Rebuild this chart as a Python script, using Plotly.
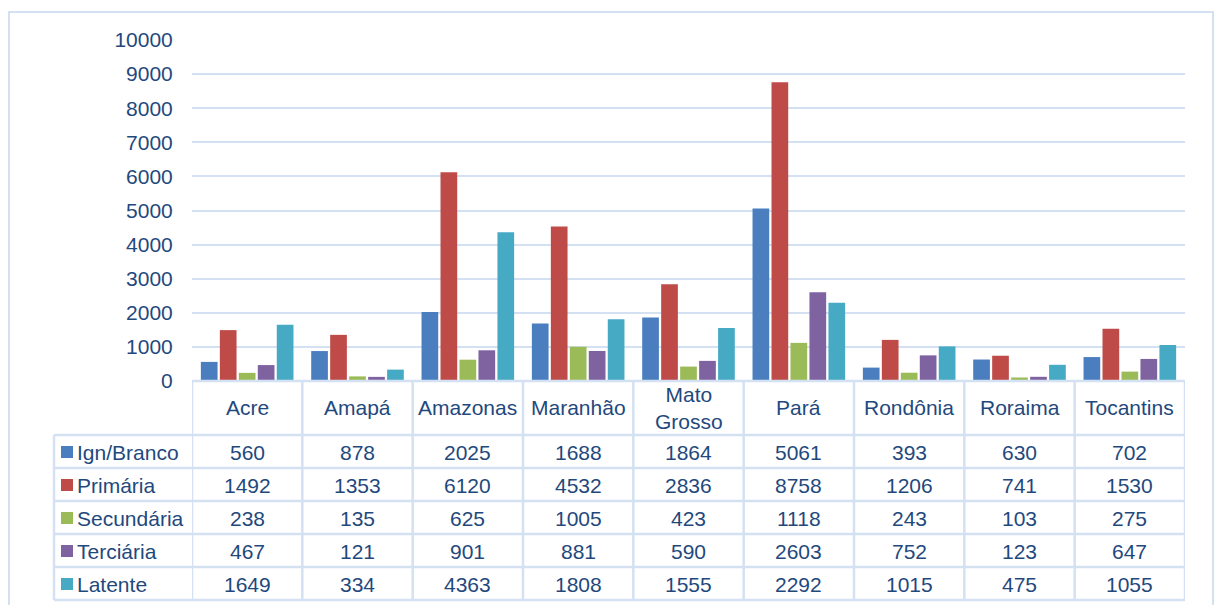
import plotly.graph_objects as go

categories = ["Acre", "Amapá", "Amazonas", "Maranhão", "Mato Grosso", "Pará", "Rondônia", "Roraima", "Tocantins"]
header_labels = ["Acre", "Amapá", "Amazonas", "Maranhão", "Mato<br>Grosso", "Pará", "Rondônia", "Roraima", "Tocantins"]
series_names = ["Ign/Branco", "Primária", "Secundária", "Terciária", "Latente"]
ign_branco = [560, 878, 2025, 1688, 1864, 5061, 393, 630, 702]
primaria = [1492, 1353, 6120, 4532, 2836, 8758, 1206, 741, 1530]
secundaria = [238, 135, 625, 1005, 423, 1118, 243, 103, 275]
terciaria = [467, 121, 901, 881, 590, 2603, 752, 123, 647]
latente = [1649, 334, 4363, 1808, 1555, 2292, 1015, 475, 1055]
y_ticks = [0, 1000, 2000, 3000, 4000, 5000, 6000, 7000, 8000, 9000, 10000]
y_tick_labels = [str(v) for v in y_ticks]

series_values = [ign_branco, primaria, secundaria, terciaria, latente]
colors = ["#4A7EBF", "#BF4B48", "#9BBB59", "#7F63A1", "#46AAC5"]

W, H = 1219, 605
TEXT = "#1F497D"
LINE = "#D4E1F2"
FONT = "Liberation Sans, Arial, sans-serif"
FS = 21

def px(x):
    return x / W

def py(y):
    return 1 - y / H

fig = go.Figure()
for name, vals, c in zip(series_names, series_values, colors):
    fig.add_trace(go.Bar(x=categories, y=vals, name=name, marker=dict(color=c, line=dict(width=0)),
                         showlegend=False))

shapes = []
annotations = []

# outer frame
shapes.append(dict(type="rect", xref="paper", yref="paper", x0=px(9), x1=px(1213), y0=py(640), y1=py(12),
                   line=dict(color=LINE, width=2), layer="below"))

table_top, header_bot = 381, 435
row_lines = [435, 468, 501, 534, 567, 600]
row_centers = [452, 485, 518, 551, 584]
leg_left = 54
plot_left, plot_right = 192, 1185

# horizontal table lines
shapes.append(dict(type="line", xref="paper", yref="paper", x0=px(plot_left), x1=px(plot_right),
                   y0=py(table_top), y1=py(table_top), line=dict(color=LINE, width=2.5)))
for yl in row_lines:
    shapes.append(dict(type="line", xref="paper", yref="paper", x0=px(leg_left), x1=px(plot_right),
                       y0=py(yl), y1=py(yl), line=dict(color=LINE, width=2.5)))
# vertical table lines
for i in range(len(categories) + 1):
    shapes.append(dict(type="line", xref="x", yref="paper", x0=i - 0.5, x1=i - 0.5,
                       y0=py(table_top), y1=py(600), line=dict(color=LINE, width=2.5)))
shapes.append(dict(type="line", xref="paper", yref="paper", x0=px(leg_left), x1=px(leg_left),
                   y0=py(header_bot), y1=py(600), line=dict(color=LINE, width=2.5)))

# header labels
for cat, lab in zip(categories, header_labels):
    annotations.append(dict(x=cat, xref="x", y=py(408), yref="paper", text=lab, showarrow=False,
                            xanchor="center", yanchor="middle", font=dict(family=FONT, size=FS, color=TEXT)))

# legend column + values
for r, (name, vals, c) in enumerate(zip(series_names, series_values, colors)):
    yc = row_centers[r]
    shapes.append(dict(type="rect", xref="paper", yref="paper", x0=px(61), x1=px(73),
                       y0=py(yc + 6), y1=py(yc - 6), fillcolor=c, line=dict(width=0)))
    annotations.append(dict(x=px(75), xref="paper", y=py(yc), yref="paper", text=name, showarrow=False,
                            xanchor="left", yanchor="middle", font=dict(family=FONT, size=FS, color=TEXT)))
    for cat, v in zip(categories, vals):
        annotations.append(dict(x=cat, xref="x", y=py(yc), yref="paper", text=str(v), showarrow=False,
                                xanchor="center", yanchor="middle", font=dict(family=FONT, size=FS, color=TEXT)))

fig.update_layout(
    width=W, height=H, autosize=False,
    margin=dict(l=0, r=0, t=0, b=0, pad=0, autoexpand=False),
    paper_bgcolor="white", plot_bgcolor="white",
    barmode="group", bargap=0.14, bargroupgap=0.12,
    shapes=shapes, annotations=annotations,
    xaxis=dict(domain=[px(plot_left), px(plot_right)], range=[-0.5, 8.5], showticklabels=False,
               showgrid=False, zeroline=False, showline=False, fixedrange=True, automargin=False),
    yaxis=dict(domain=[py(381), py(40)], range=[0, 10000], tickvals=y_ticks, ticktext=y_tick_labels,
               showgrid=True, gridcolor=LINE, gridwidth=2, zeroline=False, showline=False,
               ticks="outside", ticklen=14, tickcolor="rgba(0,0,0,0)", automargin=False,
               tickfont=dict(family=FONT, size=FS, color=TEXT)),
    font=dict(family=FONT, size=FS, color=TEXT),
)

fig.write_html("out.html", config={"displayModeBar": False},
               post_script="document.body.style.margin='0';document.body.style.padding='0';"
                           "document.documentElement.style.overflow='hidden';")
